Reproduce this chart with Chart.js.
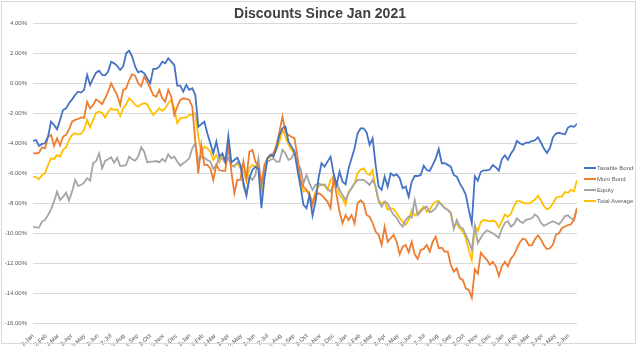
<!DOCTYPE html>
<html>
<head>
<meta charset="utf-8">
<script src="https://cdn.jsdelivr.net/npm/chart.js@4/dist/chart.umd.min.js"></script>
<style>
  html, body { margin: 0; padding: 0; background: #ffffff; }
  #wrap { position: relative; width: 640px; height: 346px; }
  #frame { position: absolute; left: 1px; top: 1px; width: 635px; height: 343px; box-sizing: border-box; border: 1px solid #d9d9d9; pointer-events: none; }
  #legend { position: absolute; left: 584px; top: 162px; font-family: 'Liberation Sans', Arial, sans-serif; font-size: 6px; color: #595959; }
  #legend .row { height: 11.2px; display: flex; align-items: center; white-space: nowrap; }
  #legend .swatch { width: 12px; height: 2px; margin-right: 1px; }
</style>
</head>
<body>
<div id="wrap">
  <canvas id="chart" width="640" height="346"></canvas>
  <div id="frame"></div>
  <div id="legend"></div>
</div>
<script>
// Weekly closing discounts (percent), first week starting 2 Jan 2021
const startDate = Date.UTC(2021, 0, 2);
const weekDays = 7;

const seriesNames = ['Taxable Bond', 'Muni Bond', 'Equity', 'Total Average'];
const seriesColors = ['#4472C4', '#ED7D31', '#A5A5A5', '#FFC000'];

const taxableBond = [
  -3.84, -3.78, -4.18, -4.04, -4.00, -3.56, -2.56, -2.78, -3.07, -2.44,
  -1.78, -1.67, -1.33, -1.07, -0.78, -0.56, -0.62, -0.44, 0.56, -0.11,
  0.33, 0.71, 0.84, 0.56, 0.53, 0.78, 1.44, 1.33, 1.16, 0.89,
  1.11, 2.00, 2.18, 1.78, 1.11, 0.73, 0.82, 0.67, 0.33, 0.00,
  0.96, 0.96, 1.11, 1.44, 1.33, 1.67, 1.44, 1.22, -0.16, -0.16,
  -0.56, -0.11, -0.44, -0.33, -0.78, -2.89, -2.73, -2.56, -3.33, -4.00,
  -4.67, -3.89, -4.89, -4.67, -5.22, -3.51, -5.27, -5.11, -4.96, -5.44,
  -6.56, -7.49, -6.33, -5.78, -5.56, -5.71, -8.33, -6.33, -5.00, -4.78,
  -4.89, -4.33, -3.44, -3.00, -2.89, -3.89, -4.22, -4.56, -5.78, -6.89,
  -8.11, -8.33, -7.44, -8.82, -7.89, -6.33, -5.33, -5.56, -5.22, -4.89,
  -6.00, -6.78, -5.89, -6.56, -6.73, -5.67, -5.00, -4.33, -3.33, -3.00,
  -3.00, -3.27, -4.11, -3.67, -5.44, -6.89, -7.11, -6.22, -6.89, -6.00,
  -6.16, -6.07, -6.33, -7.00, -6.89, -7.56, -6.56, -6.18, -6.18, -6.11,
  -5.49, -5.78, -5.84, -5.44, -5.00, -4.38, -5.33, -5.33, -5.44, -5.56,
  -6.11, -6.22, -6.67, -7.00, -7.44, -8.44, -9.33, -6.20, -6.50, -5.90,
  -5.80, -5.80, -5.75, -5.45, -5.60, -5.82, -5.05, -4.80, -5.10, -4.70,
  -4.40, -3.85, -4.00, -4.10, -3.95, -3.95, -3.85, -3.80, -3.60, -3.95,
  -4.35, -4.65, -4.30, -3.60, -3.35, -3.30, -3.35, -3.40, -2.95, -2.85,
  -2.90, -2.70
];

const muniBond = [
  -4.67, -4.67, -4.62, -4.27, -4.33, -3.56, -3.44, -4.18, -3.67, -4.13,
  -3.56, -3.44, -3.07, -2.56, -2.44, -2.38, -2.27, -2.31, -1.24, -1.67,
  -1.44, -1.07, -1.22, -1.38, -1.00, -0.56, 0.00, -0.40, -0.78, -1.44,
  -0.44, -0.33, 0.22, 0.60, 0.50, 0.00, -0.20, 0.44, 0.10, -0.33,
  -0.78, -0.90, -0.44, -1.00, -1.22, -0.44, -0.89, -2.11, -1.56, -1.11,
  -1.00, -1.04, -1.11, -1.56, -3.89, -6.00, -4.11, -5.44, -5.44, -5.67,
  -6.44, -5.44, -5.78, -5.84, -5.84, -4.11, -5.89, -7.33, -6.44, -6.44,
  -5.22, -6.33, -4.56, -4.44, -5.22, -5.56, -6.67, -5.44, -5.00, -4.78,
  -4.67, -4.11, -3.22, -2.22, -3.27, -3.44, -3.56, -3.67, -4.89, -6.44,
  -6.89, -7.11, -7.44, -8.11, -7.44, -7.33, -7.44, -7.67, -7.90, -8.33,
  -6.22, -7.44, -8.56, -9.33, -8.78, -9.11, -8.78, -9.33, -8.00, -7.80,
  -8.00, -8.78, -8.89, -9.33, -9.89, -10.11, -10.78, -9.56, -10.56, -10.33,
  -10.11, -10.56, -11.40, -10.89, -10.78, -11.27, -10.56, -11.40, -11.71, -11.11,
  -11.04, -10.78, -11.22, -10.56, -10.22, -11.00, -10.96, -11.22, -11.22, -12.11,
  -12.56, -12.33, -13.00, -13.11, -13.67, -13.78, -14.30, -12.40, -12.70, -11.30,
  -11.55, -11.75, -12.10, -11.90, -12.20, -12.85, -12.20, -11.90, -12.20, -11.70,
  -11.45, -11.00, -10.60, -10.35, -10.45, -10.80, -10.80, -10.40, -10.15, -10.40,
  -10.80, -11.05, -11.00, -10.75, -10.10, -10.00, -9.65, -9.55, -9.45, -9.40,
  -9.10, -8.35
];

const equity = [
  -9.56, -9.60, -9.62, -9.22, -9.11, -8.78, -8.40, -7.89, -7.22, -7.78,
  -7.56, -7.29, -7.82, -7.22, -6.44, -6.84, -6.78, -6.62, -6.33, -6.49,
  -5.33, -5.18, -4.67, -5.67, -5.18, -5.07, -4.93, -5.29, -4.96, -5.51,
  -5.51, -5.44, -4.89, -5.07, -5.16, -4.89, -4.27, -4.56, -5.27, -5.22,
  -5.22, -5.18, -5.27, -5.04, -5.22, -4.73, -5.00, -4.89, -5.22, -5.49,
  -5.33, -5.18, -5.00, -4.33, -4.00, -5.22, -4.89, -4.96, -5.11, -5.22,
  -5.71, -5.44, -5.00, -5.00, -5.33, -5.00, -5.44, -5.56, -5.27, -5.44,
  -6.89, -7.44, -6.22, -6.44, -6.11, -5.00, -6.89, -5.89, -5.22, -5.11,
  -5.00, -5.22, -5.22, -4.44, -4.67, -5.11, -5.00, -4.56, -5.33, -5.67,
  -6.67, -6.11, -6.67, -7.11, -6.78, -6.67, -6.78, -6.73, -7.04, -7.22,
  -6.67, -6.56, -7.11, -7.44, -7.78, -7.33, -7.00, -6.67, -6.44, -6.44,
  -6.44, -6.60, -6.78, -6.44, -6.89, -7.84, -8.22, -7.89, -8.00, -8.44,
  -8.78, -8.96, -9.33, -9.56, -9.11, -8.89, -8.96, -7.78, -8.78, -8.56,
  -8.33, -8.22, -8.60, -8.51, -8.33, -7.93, -8.11, -8.33, -8.44, -8.67,
  -9.71, -9.11, -9.56, -9.67, -10.11, -10.56, -11.10, -9.50, -10.65, -10.30,
  -10.00, -9.80, -9.90, -10.00, -10.15, -10.30, -9.70, -9.30, -9.20, -9.55,
  -9.40, -9.00, -9.20, -9.30, -9.10, -9.05, -9.00, -8.75, -8.90, -9.30,
  -9.50, -9.40, -9.30, -9.20, -9.30, -9.40, -9.15, -8.85, -8.80, -9.00,
  -9.10, -8.30
];

const totalAverage = [
  -6.22, -6.27, -6.40, -6.11, -6.00, -5.44, -5.00, -5.04, -4.78, -4.89,
  -4.44, -4.27, -3.78, -3.44, -3.33, -3.40, -3.38, -3.11, -2.44, -2.93,
  -2.44, -1.96, -1.89, -1.96, -2.29, -1.89, -1.67, -1.78, -1.73, -2.18,
  -1.67, -1.40, -1.00, -1.18, -1.44, -1.56, -1.40, -1.33, -1.40, -1.78,
  -2.11, -1.89, -1.67, -1.84, -1.67, -1.33, -1.11, -1.67, -2.67, -2.33,
  -2.29, -2.29, -2.11, -2.11, -2.00, -3.56, -4.67, -4.22, -4.33, -4.56,
  -5.11, -4.78, -5.27, -4.73, -5.22, -4.33, -5.49, -5.49, -5.33, -5.67,
  -5.84, -6.51, -5.67, -5.44, -5.56, -5.44, -7.33, -6.11, -5.00, -4.89,
  -4.78, -4.44, -3.89, -3.11, -3.56, -4.11, -4.44, -4.67, -5.33, -6.56,
  -7.22, -7.11, -7.44, -7.89, -7.22, -6.89, -6.73, -6.82, -7.11, -6.44,
  -6.22, -6.78, -7.44, -7.67, -8.11, -7.22, -7.00, -6.67, -6.00, -5.75,
  -5.67, -6.00, -6.11, -5.78, -7.00, -7.84, -8.00, -7.89, -8.44, -8.33,
  -8.38, -8.67, -8.96, -9.22, -9.44, -9.11, -8.44, -8.82, -8.67, -8.44,
  -8.22, -8.56, -8.44, -8.07, -7.89, -7.84, -8.11, -8.29, -8.44, -8.60,
  -9.56, -9.33, -9.67, -9.89, -10.33, -11.11, -11.78, -9.50, -9.85, -9.25,
  -9.10, -9.15, -9.20, -9.15, -9.25, -9.60, -9.20, -8.75, -8.90, -8.70,
  -8.20, -7.85, -7.85, -7.95, -8.00, -8.00, -7.90, -7.75, -7.50, -7.80,
  -8.20, -8.40, -8.30, -8.00, -7.65, -7.55, -7.55, -7.25, -7.30, -7.10,
  -7.20, -6.45
];

// Axis labels: one per month, on the 2nd
const monthLabels = [
  '2-Jan', '2-Feb', '2-Mar', '2-Apr', '2-May', '2-Jun', '2-Jul', '2-Aug', '2-Sep', '2-Oct', '2-Nov', '2-Dec',
  '2-Jan', '2-Feb', '2-Mar', '2-Apr', '2-May', '2-Jun', '2-Jul', '2-Aug', '2-Sep', '2-Oct', '2-Nov', '2-Dec',
  '2-Jan', '2-Feb', '2-Mar', '2-Apr', '2-May', '2-Jun', '2-Jul', '2-Aug', '2-Sep', '2-Oct', '2-Nov', '2-Dec',
  '2-Jan', '2-Feb', '2-Mar', '2-Apr', '2-May', '2-Jun'
];

const yTicks = { min: -16, max: 4, step: 2 };

const DAY = 86400000;
const monthTickDays = monthLabels.map((_, k) => (Date.UTC(2021, k, 2) - startDate) / DAY);

const toPoints = (vals) => vals.map((v, i) => ({ x: i * weekDays, y: v }));
const allSeries = [taxableBond, muniBond, equity, totalAverage];
const lastDay = (taxableBond.length - 1) * weekDays;

const fontFamily = "'Liberation Sans', Arial, sans-serif";

new Chart(document.getElementById('chart'), {
  type: 'line',
  data: {
    datasets: allSeries.map((vals, k) => ({
      label: seriesNames[k],
      data: toPoints(vals),
      borderColor: seriesColors[k],
      backgroundColor: seriesColors[k],
      borderWidth: 1.8,
      pointRadius: 0,
      tension: 0,
      fill: false
    }))
  },
  options: {
    responsive: false,
    animation: false,
    events: [],
    layout: { padding: 0 },
    plugins: {
      legend: { display: false },
      tooltip: { enabled: false },
      title: {
        display: true,
        text: 'Discounts Since Jan 2021',
        color: '#404040',
        font: { family: fontFamily, size: 14, weight: 'bold' },
        padding: { top: 5.5, bottom: 1 }
      }
    },
    scales: {
      x: {
        type: 'linear',
        min: 0,
        max: lastDay,
        grid: { display: false },
        border: { display: false },
        afterBuildTicks: (scale) => { scale.ticks = monthTickDays.map(v => ({ value: v })); },
        afterFit: (scale) => { scale.height = 22.7; },
        ticks: {
          autoSkip: false,
          minRotation: 45,
          maxRotation: 45,
          padding: 1,
          color: '#595959',
          font: { family: fontFamily, size: 6 },
          callback: (value, index) => monthLabels[index]
        }
      },
      y: {
        min: yTicks.min,
        max: yTicks.max,
        grid: { color: '#d9d9d9', lineWidth: 1, drawTicks: false },
        border: { display: false },
        afterFit: (scale) => { scale.width = 33; },
        ticks: {
          stepSize: yTicks.step,
          padding: 6,
          color: '#595959',
          font: { family: fontFamily, size: 6 },
          callback: (v) => v.toFixed(2) + '%'
        }
      },
      // empty right-hand band reserved for the legend
      legendBand: {
        type: 'linear',
        position: 'right',
        grid: { display: false },
        border: { display: false },
        ticks: { display: false },
        afterFit: (scale) => { scale.width = 63; }
      }
    }
  }
});

// Legend entries
const legendEl = document.getElementById('legend');
seriesNames.forEach((name, k) => {
  const row = document.createElement('div');
  row.className = 'row';
  const sw = document.createElement('span');
  sw.className = 'swatch';
  sw.style.background = seriesColors[k];
  const txt = document.createElement('span');
  txt.textContent = name;
  row.appendChild(sw);
  row.appendChild(txt);
  legendEl.appendChild(row);
});
</script>
</body>
</html>
